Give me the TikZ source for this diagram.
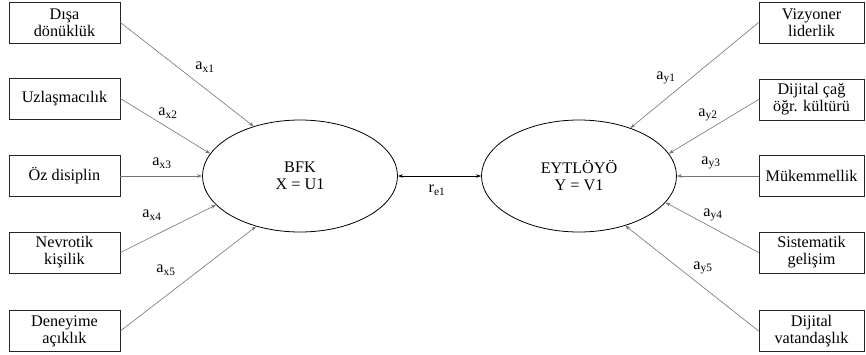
\documentclass[tikz,border=0pt]{standalone}
\usepackage{fontspec}
\setmainfont{Liberation Serif}
\usetikzlibrary{shapes.geometric,arrows.meta}

\begin{document}
\begin{tikzpicture}[x=1pt,y=-1pt,
  every node/.style={font=\fontsize{16.2}{17}\selectfont},
  ind/.style={draw=black!85, line width=0.8pt, minimum height=41pt, inner sep=0pt, align=center},
  lind/.style={ind, minimum width=111pt},
  rind/.style={ind, minimum width=105pt},
  latent/.style={draw, ellipse, line width=0.8pt, minimum width=195pt, minimum height=112pt, inner sep=0pt, align=center},
  load/.style={draw=black!55, line width=0.6pt, -{Stealth[length=5pt,width=3.5pt]}},
  coef/.style={inner sep=0pt}
]
\useasboundingbox (0,0) rectangle (866,354);

% latent variables
\node[latent] (bfk) at (300,176) {BFK\\X = U1};
\node[latent] (eyt) at (579,176) {EYTLÖYÖ\\Y = V1};

% left indicators
\node[lind] (x1) at (64.5,22.5) {Dışa\\dönüklük};
\node[lind] (x2) at (64.5,98.5) {Uzlaşmacılık};
\node[lind] (x3) at (64.5,176) {Öz disiplin};
\node[lind] (x4) at (64.5,252.5) {Nevrotik\\kişilik};
\node[lind] (x5) at (64.5,331) {Deneyime\\açıklık};

% right indicators
\node[rind] (y1) at (811.5,22.5) {Vizyoner\\liderlik};
\node[rind] (y2) at (811.5,99.5) {Dijital çağ\\öğr. kültürü};
\node[rind] (y3) at (811.5,176) {Mükemmellik};
\node[rind] (y4) at (811.5,252.5) {Sistematik\\gelişim};
\node[rind] (y5) at (811.5,331) {Dijital\\vatandaşlık};

% loadings
\draw[load] (x1.east) -- (bfk.133);
\draw[load] (x2.east) -- (bfk.166);
\draw[load] (x3.east) -- (bfk.180);
\draw[load] (x4.east) -- (bfk.199);
\draw[load] (x5.east) -- (bfk.229);

\draw[load] (y1.west) -- (eyt.43);
\draw[load] (y2.west) -- (eyt.14);
\draw[load] (y3.west) -- (eyt.0);
\draw[load] (y4.west) -- (eyt.343);
\draw[load] (y5.west) -- (eyt.313);

% canonical correlation
\draw[draw=black, line width=0.6pt, {Stealth[length=5pt,width=3.5pt]}-{Stealth[length=5pt,width=3.5pt]}] (bfk.east) -- (eyt.west);

% coefficient labels
\node[coef] (lx1) at (205,67) {a\textsubscript{x1}};
\node[coef] (lx2) at (168,113) {a\textsubscript{x2}};
\node[coef] (lx3) at (162,163) {a\textsubscript{x3}};
\node[coef] (lx4) at (152,215) {a\textsubscript{x4}};
\node[coef] (lx5) at (166,270) {a\textsubscript{x5}};

\node[coef] (ly1) at (666,78) {a\textsubscript{y1}};
\node[coef] (ly2) at (708,115) {a\textsubscript{y2}};
\node[coef] (ly3) at (711,163) {a\textsubscript{y3}};
\node[coef] (ly4) at (713,215) {a\textsubscript{y4}};
\node[coef] (ly5) at (703,268) {a\textsubscript{y5}};

\node[coef] (re) at (437,190) {r\textsubscript{e1}};
\end{tikzpicture}
\end{document}
